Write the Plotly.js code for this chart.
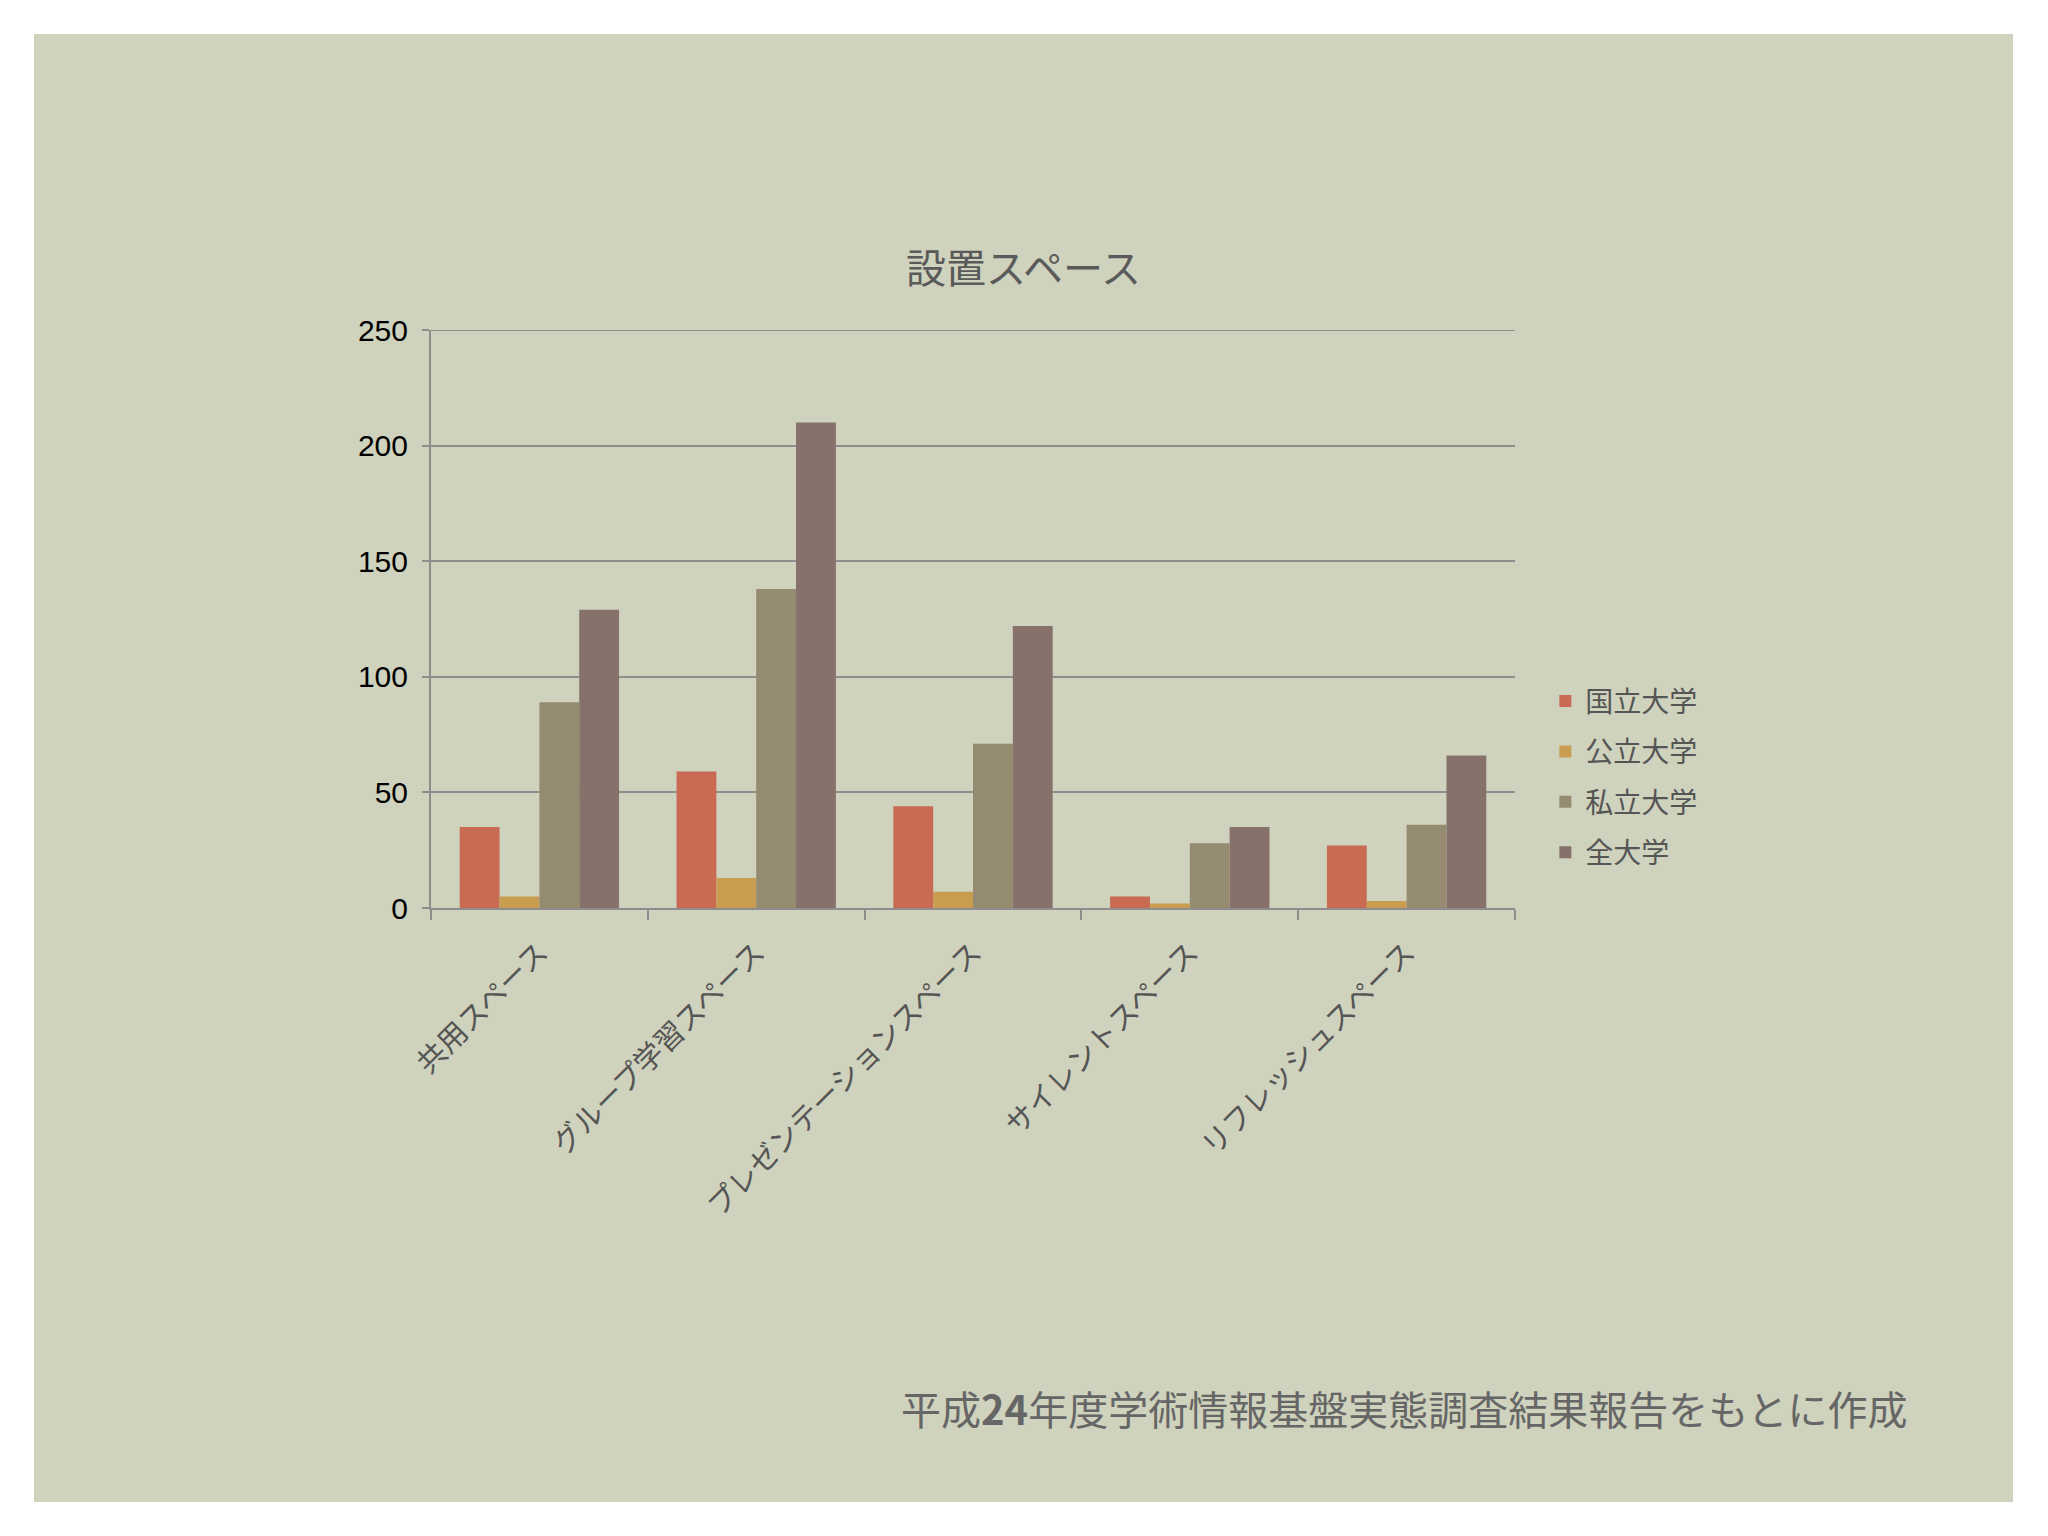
<!DOCTYPE html>
<html><head><meta charset="utf-8">
<script src="https://cdn.plot.ly/plotly-3.0.1.min.js"></script>
<style>
html,body{margin:0;padding:0;background:#ffffff;width:2048px;height:1536px;overflow:hidden;}
#chart{position:absolute;left:34px;top:34px;width:1979px;height:1468px;}
</style></head>
<body><div id="chart"></div>
<script>
const categories = ["共用スペース","グループ学習スペース","プレゼンテーションスペース","サイレントスペース","リフレッシュスペース"];
const seriesNames = ["国立大学","公立大学","私立大学","全大学"];
const national = [35, 59, 44, 5, 27];
const publicU = [5, 13, 7, 2, 3];
const privateU = [89, 138, 71, 28, 36];
const allU = [129, 210, 122, 35, 66];
const yTicks = [0, 50, 100, 150, 200, 250];
const colors = ["#c96a53","#c99d50","#948b70","#86726b"];
const seriesValues = [national, publicU, privateU, allU];

const traces = seriesValues.map((vals, i) => ({
  type: "bar",
  name: seriesNames[i],
  legendgroup: "g" + i,
  x: categories,
  y: vals,
  marker: {color: colors[i], line: {width: 0}},
  hoverinfo: "x+y+name"
}));

const layout = {
  width: 1979, height: 1468,
  paper_bgcolor: "#cfd2bc",
  plot_bgcolor: "#cfd2bc",
  margin: {l: 397, r: 498, t: 296, b: 594},
  barmode: "group",
  bargap: 0.265,
  bargroupgap: 0,
  title: {text: "設置スペース", x: 0.5, xref: "container", xanchor: "center",
          y: 1 - 235/1468, yref: "container", yanchor: "middle",
          font: {family: "Noto Sans CJK JP", size: 40, color: "#5a5a5a"}},
  xaxis: {
    type: "category",
    tickangle: -45,
    tickson: "boundaries",
    ticks: "outside", ticklen: 10, tickwidth: 2, tickcolor: "#8e8e8e",
    showline: true, linecolor: "#8e8e8e", linewidth: 2,
    showgrid: false,
    ticklabelstandoff: 14,
    tickfont: {family: "Noto Sans CJK JP", size: 29, color: "#555555"}
  },
  yaxis: {
    range: [0, 250],
    tickvals: yTicks,
    ticktext: yTicks.map(String),
    ticks: "outside", ticklen: 7, tickwidth: 2, tickcolor: "#8e8e8e",
    showline: true, linecolor: "#8e8e8e", linewidth: 2,
    showgrid: true, gridcolor: "#8e8e8e", gridwidth: 2,
    zeroline: false,
    ticklabelstandoff: 8,
    tickfont: {family: "Liberation Sans", size: 30, color: "#000000"}
  },
  shapes: [{
    type: "line", xref: "paper", yref: "y",
    x0: -0.006, x1: 1, y0: 250, y1: 250,
    line: {color: "#8e8e8e", width: 2}
  }],
  legend: {
    x: 1.028, xanchor: "left", y: 0.227, yanchor: "middle",
    bgcolor: "rgba(0,0,0,0)",
    font: {family: "Noto Sans CJK JP", size: 28, color: "#555555"},
    tracegroupgap: 11,
    itemwidth: 30
  },
  annotations: [{
    text: "平成<b>24</b>年度学術情報基盤実態調査結果報告をもとに作成",
    xref: "paper", yref: "paper",
    x: (1875-397)/1084, xanchor: "right",
    y: (874-1374)/578, yanchor: "middle",
    showarrow: false,
    font: {family: "Noto Sans CJK JP", size: 40, color: "#666666"}
  }]
};

Plotly.newPlot("chart", traces, layout, {displayModeBar: false, staticPlot: true});
</script>
</body></html>
